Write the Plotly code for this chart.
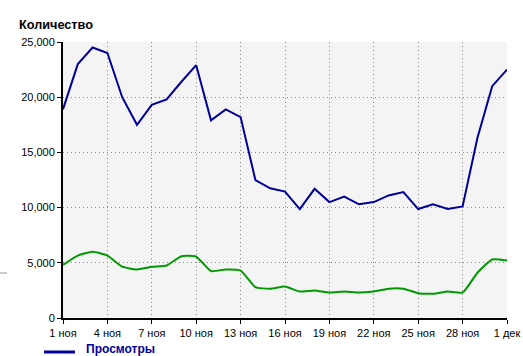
import plotly.graph_objects as go

days = list(range(31))
tick_vals = [0, 3, 6, 9, 12, 15, 18, 21, 24, 27, 30]
tick_labels = ["1 ноя", "4 ноя", "7 ноя", "10 ноя", "13 ноя", "16 ноя",
               "19 ноя", "22 ноя", "25 ноя", "28 ноя", "1 дек"]

views = [18900, 23000, 24500, 24000, 20000, 17500, 19300, 19800, 21400, 22900,
         17900, 18900, 18200, 12500, 11750, 11450, 9870, 11700, 10500, 11000,
         10300, 10500, 11100, 11400, 9870, 10300, 9870, 10100, 16300, 21000, 22500]
visitors = [4800, 5650, 6000, 5650, 4650, 4400, 4650, 4750, 5600, 5550,
            4250, 4400, 4300, 2800, 2650, 2850, 2400, 2500, 2300, 2400,
            2300, 2400, 2650, 2650, 2250, 2200, 2400, 2300, 4100, 5300, 5200]

BLUE = "#000099"
GREEN = "#009900"

fig = go.Figure()
fig.add_trace(go.Scatter(x=days, y=views, mode="lines", name="Просмотры",
                         line=dict(color=BLUE, width=2)))
fig.add_trace(go.Scatter(x=days, y=visitors, mode="lines", name="Посетители",
                         line=dict(color=GREEN, width=2, shape="spline", smoothing=0.5)))

fig.update_layout(
    width=523, height=356,
    margin=dict(l=63, r=16, t=42, b=38, autoexpand=False),
    paper_bgcolor="white",
    plot_bgcolor="#f4f4f4",
    font=dict(family="Liberation Sans, Arial, sans-serif", size=11, color="black"),
    showlegend=False,
    annotations=[
        dict(text="<b>Количество</b>", xref="paper", yref="paper",
             x=-0.1036, y=1.062, xanchor="left", yanchor="middle",
             showarrow=False, font=dict(size=12.7)),
        dict(text="<b>Просмотры</b>", xref="paper", yref="paper",
             x=0.048, y=-0.114, xanchor="left", yanchor="middle",
             showarrow=False, font=dict(size=12, color=BLUE)),
    ],
    shapes=[
        dict(type="line", xref="paper", yref="paper", xsizemode="pixel",
             xanchor=0, x0=-63, x1=-56, y0=0.163, y1=0.163,
             line=dict(color="#999999", width=1)),
        dict(type="line", xref="paper", yref="paper", xsizemode="pixel",
             ysizemode="pixel", yanchor=0, y0=-34, y1=-34,
             xanchor=0, x0=-19, x1=12,
             line=dict(color=BLUE, width=3)),
    ],
)
fig.update_xaxes(range=[0, 30], tickvals=tick_vals, ticktext=tick_labels,
                 showline=True, linecolor="black", linewidth=2,
                 ticks="outside", ticklen=4, tickcolor="black",
                 showgrid=True, gridcolor="#888888", griddash="1px,3px", gridwidth=1,
                 zeroline=False, fixedrange=True)
fig.update_yaxes(range=[0, 25000], dtick=5000, tickformat=",",
                 showline=True, linecolor="black", linewidth=2,
                 ticks="outside", ticklen=4, tickcolor="black",
                 showgrid=True, gridcolor="#888888", griddash="1px,3px", gridwidth=1,
                 zeroline=False, fixedrange=True)

fig.write_html("out.html", config={"displayModeBar": False})
